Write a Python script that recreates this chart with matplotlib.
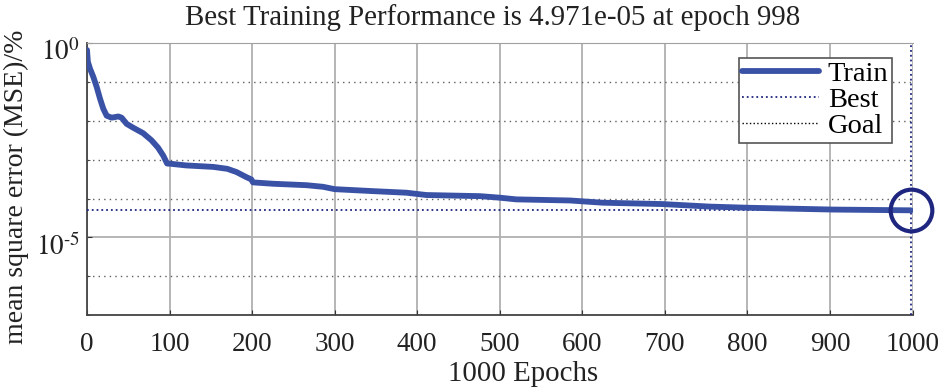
import numpy as np
import matplotlib
matplotlib.use('Agg')
import matplotlib.pyplot as plt
import matplotlib.transforms as mtrans
from matplotlib.ticker import FixedLocator, FixedFormatter, NullFormatter

plt.rcParams['font.family'] = ['Liberation Serif', 'DejaVu Serif']
plt.rcParams['mathtext.fontset'] = 'stix'

# training record
epochs = [0, 1, 3.6, 7.6, 11.7, 15.7, 19.7, 23.8, 29.8, 37.9, 41.9, 48, 56,
          68, 78, 86, 92.4, 97, 102, 120, 153, 170, 181, 193, 199,
          201, 225, 266, 286, 300, 346, 387, 411, 476, 500, 520, 585, 625,
          697, 754, 799, 903, 998]
perf = [6.6e-1, 3.31e-1, 2.19e-1, 1.35e-1, 7.41e-2, 3.72e-2, 2.04e-2, 1.35e-2,
        1.20e-2, 1.29e-2, 1.20e-2, 8.32e-3, 6.61e-3, 4.79e-3, 3.16e-3, 2.04e-3,
        1.26e-3, 7.94e-4, 7.8e-4, 7.1e-4, 6.5e-4, 5.8e-4, 4.8e-4, 3.55e-4, 3.1e-4,
        2.6e-4, 2.4e-4, 2.2e-4, 2.0e-4, 1.74e-4, 1.55e-4, 1.41e-4, 1.23e-4,
        1.15e-4, 1.05e-4, 9.5e-5, 8.9e-5, 7.8e-5, 7.2e-5, 6.2e-5, 5.8e-5,
        5.2e-5, 4.971e-5]
best_epoch = 998
best_perf = 4.971e-5
goal = 0

xticks = list(range(0, 1001, 100))
ymajor = [1e-5, 1e0]
ymajor_labels = [r'$10^{\text{-}5}$', r'$10^{0}$']
yminor = [1e-7, 1e-6, 1e-4, 1e-3, 1e-2, 1e-1]

blue = '#3a52a6'
navy = '#1f2680'
txt = '#222222'

fig = plt.figure(figsize=(9.5, 3.91), dpi=100)
ax = fig.add_axes([0.0916, 0.194, 0.869, 0.696])

ax.plot(epochs, perf, color=blue, lw=4.2, label='Train', solid_capstyle='round',
        solid_joinstyle='round', zorder=4)
ax.axhline(best_perf, color=navy, ls=':', lw=1.3, label='Best', zorder=3)
ax.axvline(best_epoch, color=navy, ls=':', lw=1.3, zorder=3)
ax.axhline(goal, color='black', ls=':', lw=1.0, label='Goal')
ax.plot([best_epoch], [best_perf], 'o', ms=30, mfc='none', mec=navy, mew=3, clip_on=False, zorder=5)

ax.set_yscale('log')
ax.set_xlim(0, 1000)
ax.set_ylim(1e-7, 1e0)
ax.set_xticks(xticks)
ax.yaxis.set_major_locator(FixedLocator(ymajor))
ax.yaxis.set_major_formatter(FixedFormatter(ymajor_labels))
ax.yaxis.set_minor_locator(FixedLocator(yminor))
ax.yaxis.set_minor_formatter(NullFormatter())

ax.grid(True, axis='x', color='#b0b0b0', lw=1.3, ls='-')
ax.grid(True, axis='y', which='major', color='#b0b0b0', lw=1.3, ls='-')
ax.grid(True, axis='y', which='minor', color='#606060', lw=1.0, ls=(0, (1, 3)))
ax.set_axisbelow(True)

ax.tick_params(axis='both', which='both', direction='in', labelsize=19.5, colors='#333333')
ax.tick_params(axis='both', labelcolor=txt)
ax.tick_params(axis='x', pad=12)
ax.tick_params(axis='y', labelsize=19.5, pad=5)
for s in ['left', 'bottom']:
    ax.spines[s].set_color('#444444')
    ax.spines[s].set_linewidth(1.3)
ax.spines['top'].set_color('#a0a0a0')
ax.spines['right'].set_visible(False)

# y tick labels sit a bit below their ticks, as in the original
shift = mtrans.ScaledTranslation(0, -7 / 100, fig.dpi_scale_trans)
for t in ax.yaxis.get_major_ticks():
    t.label1.set_transform(t.label1.get_transform() + shift)

ax.set_title('Best Training Performance is 4.971e-05 at epoch 998', fontsize=20.8, color=txt, pad=13)
ax.title.set_x(0.491)
ax.set_xlabel('1000 Epochs', fontsize=20.8, color=txt)
ax.xaxis.set_label_coords(0.528, -0.17)
ax.xaxis.label.set_va('top')
ax.set_ylabel('mean square error (MSE)/%', fontsize=20, color=txt)
ax.yaxis.set_label_coords(-0.086, 0.472)
ax.yaxis.label.set_va('center')

leg = ax.legend(loc='upper right', bbox_to_anchor=(0.975, 0.945), borderaxespad=0,
                fontsize=20.5, handlelength=2.7, labelspacing=0.0, borderpad=0.12,
                handletextpad=0.3, fancybox=False, framealpha=1, edgecolor='#555555')
leg.get_frame().set_linewidth(1.2)

fig.savefig('out.png', dpi=100)
